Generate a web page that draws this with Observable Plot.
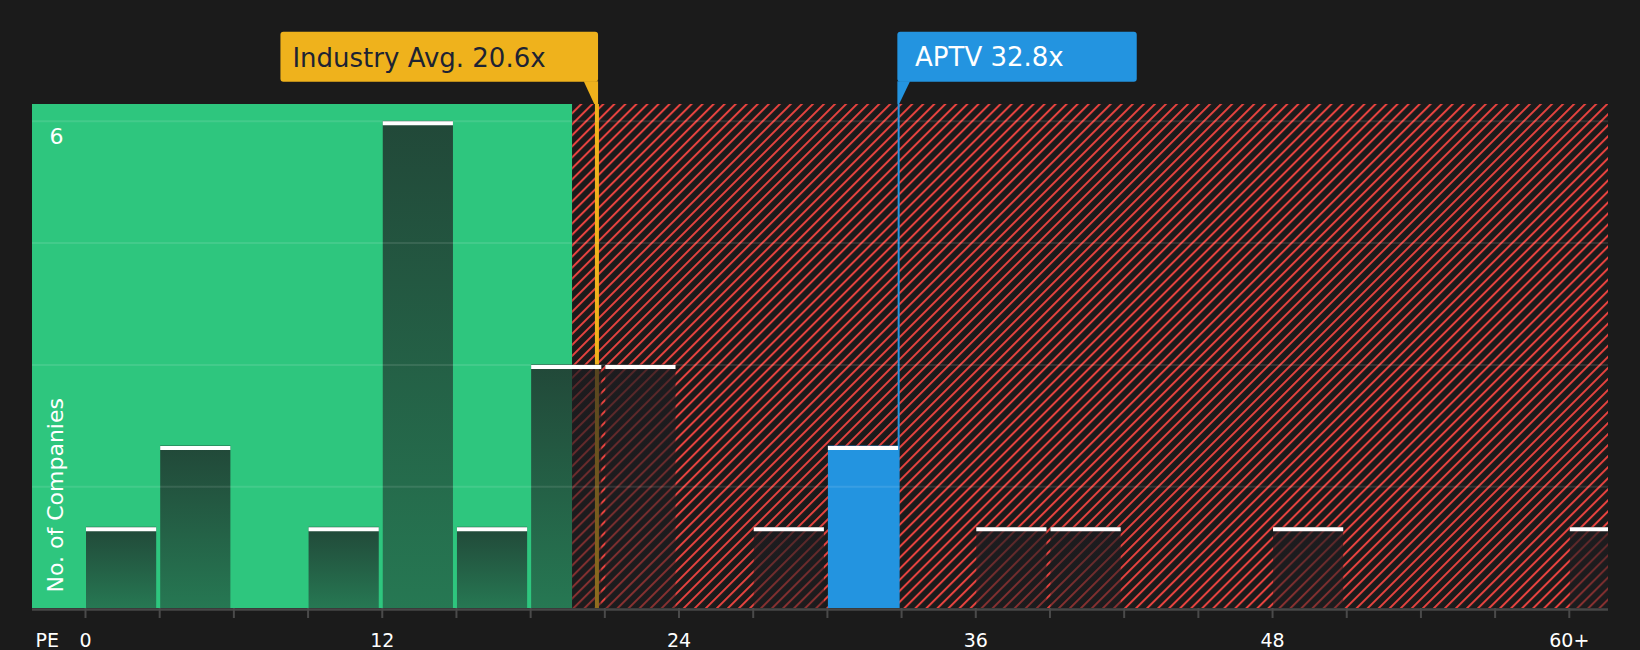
<!DOCTYPE html>
<html><head><meta charset="utf-8">
<script src="https://cdn.jsdelivr.net/npm/d3@7"></script>
<script src="https://cdn.jsdelivr.net/npm/@observablehq/plot@0.6"></script>
<style>
html,body{margin:0;padding:0;background:#1b1b1b;}
#chart{width:1640px;height:650px;overflow:hidden;}
</style></head><body><div id="chart"></div>
<script>
// ---- data ----
const binStarts = [0,3,6,9,12,15,18,21,24,27,30,33,36,39,42,45,48,51,54,57,60];
const binCounts = [1,2,0,1,6,1,3,3,0,1,2,0,1,1,0,0,1,0,0,0,1];
const binWidth = 3;
const subjectBin = 30;
const subjectName = "APTV";
const subjectPE = 32.8;
const industryLabel = "Industry Avg.";
const industryAvg = 20.6;
const fairUpper = 19.7;
const xTickValues = [0,3,6,9,12,15,18,21,24,27,30,33,36,39,42,45,48,51,54,57,60];
const xTickLabels = {0:"0",12:"12",24:"24",36:"36",48:"48",60:"60+"};
const yGridValues = [1.5,3,4.5,6];
const yLabelValues = [6];
const xDomain = [-2.143, 61.585];
const yDomain = [0, 6.207];
const xAxisTitle = "PE";
const yAxisTitle = "No. of Companies";

(function(){
const bins = binStarts.map((s,i)=>({start:s, end:s+binWidth, count:binCounts[i]}));
const nonEmpty = bins.filter(d=>d.count>0);
const others = nonEmpty.filter(d=>d.start!==subjectBin);
const subject = nonEmpty.filter(d=>d.start===subjectBin);

const plot = Plot.plot({
  width:1640, height:650,
  marginLeft:32, marginRight:32, marginTop:104, marginBottom:42,
  style:{background:"#1b1b1b", color:"#fff", fontFamily:"'DejaVu Sans', sans-serif"},
  x:{domain:xDomain, axis:null},
  y:{domain:yDomain, axis:null},
  marks:[
    Plot.rect([0], {x1:()=>xDomain[0], x2:()=>fairUpper, fill:"#2ec67e"}),
    Plot.rect([0], {x1:()=>fairUpper, x2:()=>xDomain[1], fill:"url(#hatch)"}),
    Plot.ruleX([industryAvg], {x:d=>d, stroke:"#efb21c", strokeWidth:4, dx:2}),
    Plot.ruleX([subjectPE], {x:d=>d, stroke:"#2394e0", strokeWidth:2, dx:2}),
    Plot.rectY(others, {x1:"start", x2:"end", y:"count", fill:"url(#barGrad)", insetLeft:1, insetRight:3, clip:true}),
    Plot.rectY(subject, {x1:"start", x2:"end", y:"count", fill:"#2394e0", insetLeft:1, insetRight:3, clip:true}),
    Plot.ruleY(yGridValues, {y:d=>d, stroke:"#fff", strokeOpacity:0.1, strokeWidth:2}),
    Plot.ruleY(nonEmpty, {x1:"start", x2:"end", y:"count", stroke:"#fff", strokeWidth:4, dy:2, insetLeft:1, insetRight:3, clip:true}),
    Plot.ruleY([0], {y:d=>d, stroke:"#474747", strokeWidth:2.5, dy:1}),
    Plot.axisX({ticks:xTickValues, tickSize:10, tickPadding:15, stroke:"#4a4a4a", strokeWidth:2, fill:"#fff", fontSize:19, tickFormat:d=>xTickLabels[d] ?? "", label:null}),
    Plot.text([xAxisTitle], {text:d=>d, frameAnchor:"bottom-left", dx:3, dy:25, lineAnchor:"top", textAnchor:"start", fill:"#fff", fontSize:19}),
    Plot.text(yLabelValues, {y:d=>d, text:d=>String(d), frameAnchor:"left", dx:17, dy:16, textAnchor:"start", fill:"#fff", fontSize:22}),
    Plot.text([yAxisTitle], {text:d=>d, frameAnchor:"bottom-left", rotate:-90, textAnchor:"start", dx:30, dy:-16, fill:"#fff", fontSize:22})
  ]
});
document.getElementById("chart").appendChild(plot);

// ---- defs: hatch & bar gradient ----
const svg = d3.select(plot);
const defs = svg.insert("defs", ":first-child");
const pat = defs.append("pattern").attr("id","hatch").attr("patternUnits","userSpaceOnUse")
  .attr("width",7.8).attr("height",8).attr("patternTransform","rotate(45)");
pat.append("rect").attr("width",7.8).attr("height",8).attr("fill","#1b1b1b");
pat.append("line").attr("x1",1).attr("y1",0).attr("x2",1).attr("y2",8)
  .attr("stroke","#e6433f").attr("stroke-width",2);
const grad = defs.append("linearGradient").attr("id","barGrad").attr("x1",0).attr("y1",0).attr("x2",0).attr("y2",1);
grad.append("stop").attr("offset","0%").attr("stop-color","#1d1c20").attr("stop-opacity",0.74);
grad.append("stop").attr("offset","100%").attr("stop-color","#1d1c20").attr("stop-opacity",0.46);

// ---- callouts ----
const xs = plot.scale("x");
const boxTop = 31.7, boxBottom = 81.7, frameTop = 104;
const g = svg.append("g").attr("text-anchor","start").attr("font-family","'DejaVu Sans', sans-serif");
{
  const L = xs.apply(industryAvg) + 2;
  const right = L + 1.6, left = right - 317.6;
  g.append("rect").attr("x",left).attr("y",boxTop).attr("width",right-left).attr("height",boxBottom-boxTop).attr("rx",3).attr("fill","#efb21c");
  g.append("polygon").attr("points",`${right-14.3},${boxBottom-0.5} ${right},${boxBottom-0.5} ${right},${frameTop} ${right-3.8},${frameTop}`).attr("fill","#efb21c");
  g.append("text").attr("x",left+12).attr("y",66.5).attr("font-size",26).attr("fill","#1d2333")
    .attr("text-anchor","start").text(`${industryLabel} ${industryAvg}x`);
}
{
  const L = xs.apply(subjectPE) + 2;
  const left = L - 0.8, right = left + 239.4;
  g.append("rect").attr("x",left).attr("y",boxTop).attr("width",right-left).attr("height",boxBottom-boxTop).attr("rx",3).attr("fill","#2394e0");
  g.append("polygon").attr("points",`${left},${boxBottom-0.5} ${left+12.7},${boxBottom-0.5} ${left+1.8},${frameTop} ${left},${frameTop}`).attr("fill","#2394e0");
  g.append("text").attr("x",left+17.7).attr("y",66).attr("font-size",26).attr("fill","#fff")
    .attr("text-anchor","start").text(`${subjectName} ${subjectPE}x`);
}
})();
</script></body></html>
